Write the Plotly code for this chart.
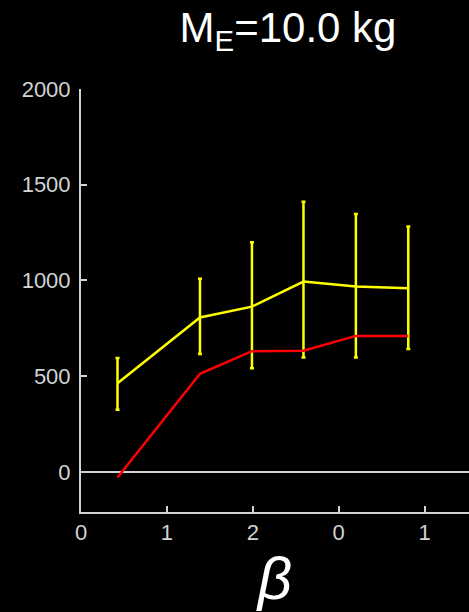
import plotly.graph_objects as go

beta = [0.425, 1.385, 1.99, 2.59, 3.20, 3.81]
yellow_mean = [463, 806, 863, 994, 968, 959]
yellow_plus = [131, 202, 336, 417, 379, 322]
yellow_minus = [139, 191, 322, 397, 371, 318]
red_vals = [-30, 512, 630, 633, 710, 710]
x_tickvals = [0, 1, 2, 3, 4]
x_ticktext = ["0", "1", "2", "0", "1"]
y_tickvals = [0, 500, 1000, 1500, 2000]

axis_color = "#d2d2d2"

fig = go.Figure()
fig.add_trace(go.Scatter(
    x=beta, y=yellow_mean, mode="lines",
    line=dict(color="#ffff00", width=2.5),
    error_y=dict(type="data", symmetric=False, array=yellow_plus,
                 arrayminus=yellow_minus, color="#ffff00",
                 thickness=2.5, width=2),
    showlegend=False,
))
fig.add_trace(go.Scatter(
    x=beta, y=red_vals, mode="lines",
    line=dict(color="#ff0000", width=2.5),
    showlegend=False,
))

fig.update_layout(
    width=469, height=612,
    paper_bgcolor="black", plot_bgcolor="black",
    margin=dict(l=81, r=0, t=89, b=100),
    font=dict(family="Liberation Sans, Arial, sans-serif", color=axis_color, size=20),
    title=dict(text="M<sub>E</sub>=10.0 kg", x=288/469, xanchor="center",
               xref="container", yref="container", y=1 - 27/612, yanchor="middle",
               font=dict(size=42, color="white")),
    xaxis=dict(range=[0, 4.517], tickvals=x_tickvals, ticktext=x_ticktext,
               showgrid=False, zeroline=False, showline=True, linecolor=axis_color,
               linewidth=2, ticks="inside", ticklen=6, tickwidth=2, tickcolor=axis_color,
               tickfont=dict(size=22, color=axis_color),
               title=dict(text="<i>β</i>", font=dict(size=60, color="white"), standoff=6)),
    yaxis=dict(range=[-210, 2000], tickvals=y_tickvals,
               showgrid=False, zeroline=True, zerolinecolor=axis_color, zerolinewidth=1.5,
               showline=True, linecolor=axis_color, linewidth=2,
               ticks="inside", ticklen=6, tickwidth=2, tickcolor=axis_color,
               ticklabelstandoff=4,
               tickfont=dict(size=22, color=axis_color)),
)

fig.write_html("out.html")
